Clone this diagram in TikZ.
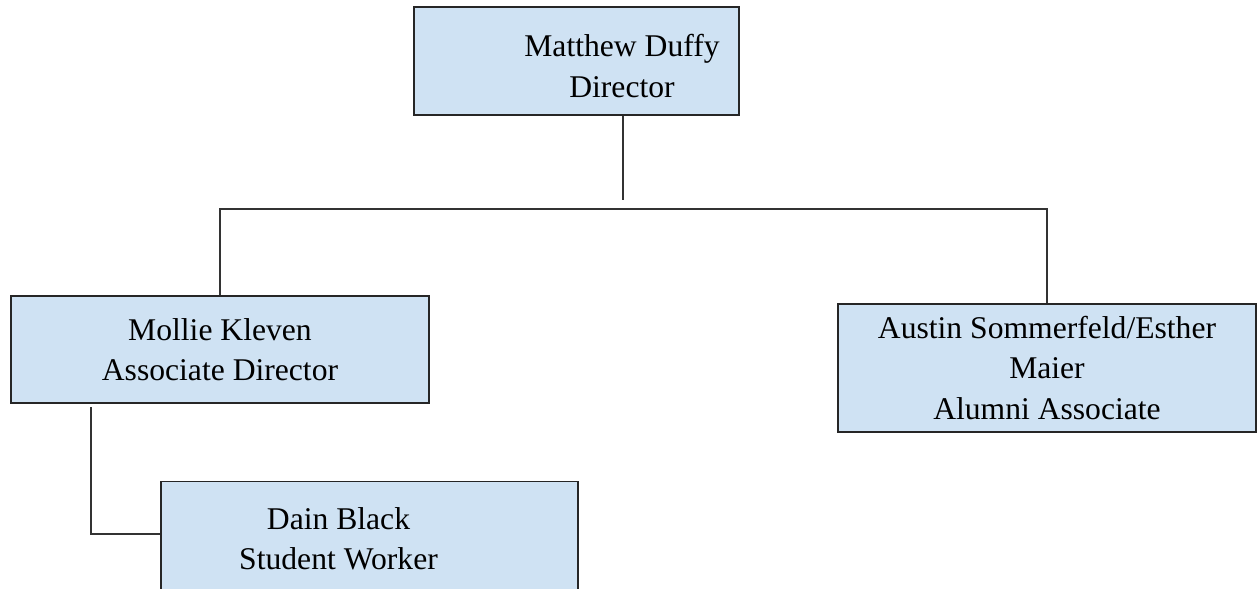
\documentclass[tikz,border=0pt]{standalone}
\usepackage{fontspec}
\setmainfont{Liberation Serif}
\usepackage{xcolor}
\usetikzlibrary{positioning}

\definecolor{boxblue}{HTML}{CFE2F3}

\begin{document}
\begin{tikzpicture}[
    x=0.02cm, y=-0.02cm,
    box/.style={
        draw=black!85,
        fill=boxblue,
        line width=1.1pt,
        inner sep=0pt,
        minimum width=8.36cm,
        font=\fontsize{18}{23}\selectfont,
        align=center
    },
    boxtext/.style={font=\fontsize{18}{23}\selectfont, align=center},
    link/.style={draw=black!80, line width=0.9pt}
]
\useasboundingbox (0,0) rectangle (1257,588);

% Define boxes
\node[box,minimum width=6.5cm,minimum height=2.16cm,
      label={[boxtext,xshift=0.91cm,yshift=-0.1cm]center:{Matthew Duffy\\Director}}] (director) at (576.5,61) {};
\node[box,minimum height=2.14cm] (assoc) at (220,349.5) {Mollie Kleven\\Associate Director};
\node[box,minimum height=2.56cm] (alumni) at (1047,368) {Austin Sommerfeld/Esther\\Maier\\Alumni Associate};
\node[box,minimum width=8.34cm,minimum height=2.3cm,
      label={[boxtext,xshift=-0.62cm]center:{Dain Black\\Student Worker}}] (student) at (369.5,539) {};

% Define connectors
\coordinate (split) at (623,200);
\coordinate (bar) at (623,209);
\coordinate (elbow) at (91,407);
\coordinate (elbowend) at (91,534);
\draw[link] (director.south -| split) -- (split);
\draw[link] (assoc.north) |- (bar) -| (alumni.north);
\draw[link] (elbow) -- (elbowend) -- (student.west |- elbowend);

\end{tikzpicture}
\end{document}
